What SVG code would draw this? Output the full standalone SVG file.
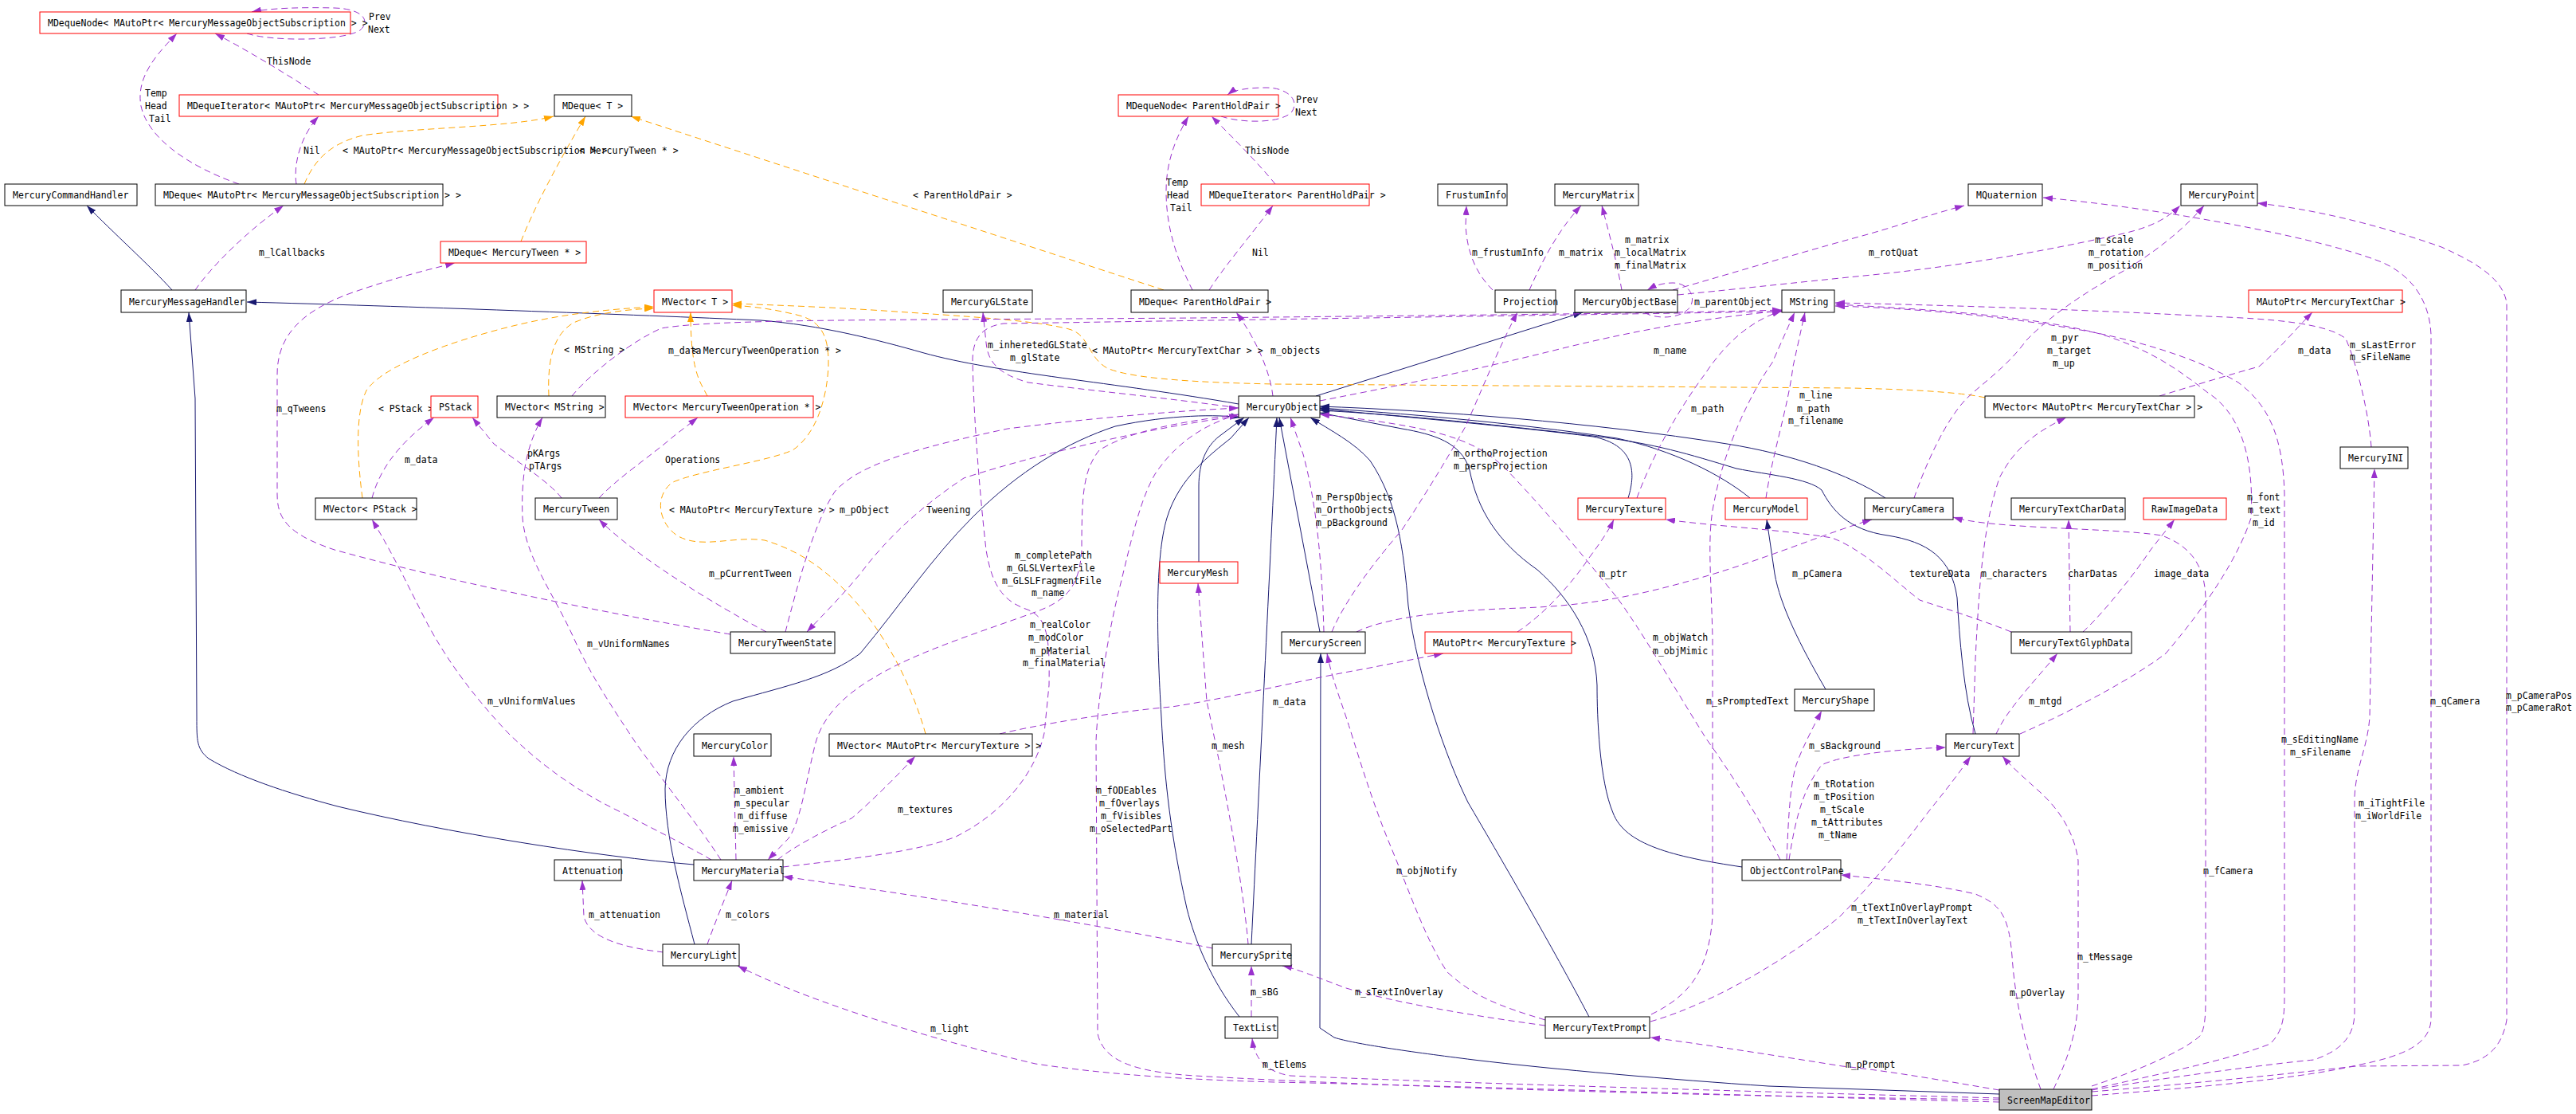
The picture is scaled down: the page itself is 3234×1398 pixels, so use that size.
<svg xmlns="http://www.w3.org/2000/svg" width="3234" height="1398" viewBox="0 0 3234 1398">
<style>
.nb{fill:#fff;stroke:#000;stroke-width:1}
.nr{fill:#fff;stroke:#ff0000;stroke-width:1}
.ng{fill:#bfbfbf;stroke:#000;stroke-width:1}
text{font-family:"DejaVu Sans Mono","Liberation Mono",monospace;font-size:11.5px;fill:#000}
.u{fill:none;stroke:#9a32cd;stroke-width:1;stroke-dasharray:8,5;marker-end:url(#ap)}
.i{fill:none;stroke:#191970;stroke-width:1;marker-end:url(#an)}
.t{fill:none;stroke:#ffa500;stroke-width:1;stroke-dasharray:8,5;marker-end:url(#ao)}
</style>
<defs>
<marker id="ap" viewBox="0 0 12 8" refX="12" refY="4" markerWidth="12" markerHeight="8" markerUnits="userSpaceOnUse" orient="auto"><path d="M0,0L12,4L0,8z" fill="#9a32cd"/></marker>
<marker id="an" viewBox="0 0 12 8" refX="12" refY="4" markerWidth="12" markerHeight="8" markerUnits="userSpaceOnUse" orient="auto"><path d="M0,0L12,4L0,8z" fill="#191970"/></marker>
<marker id="ao" viewBox="0 0 12 8" refX="12" refY="4" markerWidth="12" markerHeight="8" markerUnits="userSpaceOnUse" orient="auto"><path d="M0,0L12,4L0,8z" fill="#ffa500"/></marker>
</defs>
<rect width="3234" height="1398" fill="#fff"/>
<g id="connectors">
<!-- inheritance -->
<path class="i" d="M216,364 C190,335 140,290 109,258"/>
<path class="i" d="M1555,507 C1400,480 1250,468 1160,443 C1100,426 1030,408 955,402 C800,395 500,384 310,379"/>
<path class="i" d="M871,1085 C750,1075 560,1045 424,1012 C360,995 300,975 262,952 C247,940 247,930 247,900 L245,500 L237,392"/>
<path class="i" d="M1652,497 L1987,392"/>
<path class="i" d="M1657,793 L1606,524"/>
<path class="i" d="M1505,705 L1505,610 C1505,580 1515,560 1530,548 L1562,524"/>
<path class="i" d="M1556,1276 C1520,1230 1500,1180 1490,1140 C1470,1050 1462,980 1458,900 C1452,800 1450,700 1465,650 C1480,600 1520,570 1545,550 L1568,524"/>
<path class="i" d="M1571,1185 C1580,1000 1595,700 1603,524"/>
<path class="i" d="M1995,1276 C1950,1190 1880,1070 1843,1007 C1815,950 1780,850 1768,760 C1762,690 1755,630 1720,578 C1700,555 1670,540 1645,524"/>
<path class="i" d="M2187,1088 C2100,1075 2040,1060 2025,1020 C2008,980 2005,900 2005,860 C2003,800 1970,750 1930,715 C1880,680 1855,640 1845,590 C1835,555 1800,545 1760,538 L1657,518"/>
<path class="i" d="M2044,625 C2055,590 2050,558 2000,548 C1900,535 1750,522 1657,513"/>
<path class="i" d="M2197,625 C2160,595 2100,565 2030,550 C1900,530 1750,518 1657,512"/>
<path class="i" d="M2367,625 C2320,595 2250,570 2168,557 C2000,530 1800,515 1657,510"/>
<path class="i" d="M2480,921 C2465,870 2460,800 2457,750 C2450,700 2420,680 2370,672 C2320,665 2300,640 2287,615 C2270,600 2220,596 2180,588 C2120,570 2080,557 2000,547 C1850,530 1750,520 1657,515"/>
<path class="i" d="M2292,865 C2260,810 2235,760 2228,720 L2218,652"/>
<path class="i" d="M2510,1373 L2220,1363 C2100,1355 1950,1342 1850,1330 C1770,1320 1700,1310 1675,1302 L1657,1290 L1658,820"/>
<path class="i" d="M872,1185 C855,1120 835,1050 835,990 C836,940 870,900 920,880 C990,860 1040,850 1080,820 C1130,760 1170,700 1220,650 C1280,590 1340,555 1400,535 C1470,520 1530,520 1557,524"/>
<!-- template -->
<path class="t" d="M382,231 C395,200 415,180 455,170 C520,160 640,160 695,146"/>
<path class="t" d="M654,303 C670,262 700,205 735,146"/>
<path class="t" d="M1461,364 L792,146"/>
<path class="t" d="M455,625 C449,580 445,520 460,490 C480,460 560,430 640,410 C700,395 760,388 821,385"/>
<path class="t" d="M689,497 C687,450 695,420 720,405 C750,392 790,388 821,387"/>
<path class="t" d="M888,497 C880,480 867,470 867,392"/>
<path class="t" d="M1162,921 C1145,860 1110,790 1060,740 C1030,710 1000,690 960,678 C920,672 880,690 850,672 C825,655 822,620 845,605 C880,590 960,580 995,565 C1025,545 1038,500 1040,460 C1041,420 1030,402 1000,395 C970,388 950,385 919,383"/>
<path class="t" d="M2492,499 C2470,494 2420,489 2323,487 L1600,482 C1500,480 1420,475 1390,462 C1365,448 1368,420 1342,413 C1300,402 1213,397 1110,390 C1050,386 980,383 919,381"/>
<!-- usage -->
<path class="u" d="M310,42 C340,52 430,52 452,38 C466,26 455,11 420,10 C380,9 340,10 316,15"/>
<path class="u" d="M400,119 C375,103 320,68 270,42"/>
<path class="u" d="M300,231 C240,210 186,175 177,133 C170,95 200,65 222,42"/>
<path class="u" d="M372,231 C368,205 378,170 400,146"/>
<path class="u" d="M245,364 C265,335 310,290 356,258"/>
<path class="u" d="M917,796 C850,785 600,740 420,690 C360,670 348,650 348,620 L348,470 C348,420 380,390 440,368 C500,347 540,338 571,330"/>
<path class="u" d="M718,497 C740,470 790,430 830,412 C900,400 1100,402 1500,399 C1800,396 2100,393 2237,389"/>
<path class="u" d="M983,1088 C1050,1080 1150,1070 1200,1050 C1260,1020 1300,970 1311,920 L1317,860 C1318,800 1315,775 1290,765 C1260,755 1245,735 1238,690 C1230,620 1222,520 1221,450 C1222,425 1232,410 1260,406 L2237,391"/>
<path class="u" d="M1657,503 C1750,485 1850,465 1962,437 C2060,413 2150,398 2237,390"/>
<path class="u" d="M2055,625 C2075,570 2110,510 2140,470 C2160,440 2190,405 2237,390"/>
<path class="u" d="M2217,625 C2225,570 2245,510 2251,460 L2266,392"/>
<path class="u" d="M2073,1273 C2120,1250 2145,1220 2150,1150 L2150,800 C2148,720 2143,670 2152,630 C2165,560 2200,490 2225,455 L2253,392"/>
<path class="u" d="M2977,561 C2974,520 2960,460 2945,425 C2920,405 2850,400 2772,397 C2650,390 2450,383 2304,380"/>
<path class="u" d="M2536,921 C2600,893 2680,850 2719,820 C2770,760 2810,700 2826,650 C2830,580 2815,520 2772,493 C2730,460 2700,440 2640,420 C2550,395 2400,387 2304,382"/>
<path class="u" d="M2626,1367 C2700,1350 2800,1330 2850,1310 C2865,1295 2868,1280 2868,1250 L2868,620 C2866,550 2850,510 2810,480 C2760,450 2680,425 2600,412 C2500,395 2400,387 2304,384"/>
<path class="u" d="M2626,1363 C2680,1345 2740,1320 2762,1300 C2769,1290 2769,1270 2769,1250 L2769,750 C2768,710 2750,685 2714,672 C2650,662 2500,664 2452,649"/>
<path class="u" d="M2626,1375 C2750,1365 2880,1355 2958,1337 C3020,1325 3050,1310 3052,1280 L3052,420 C3050,370 3020,340 2985,327 C2900,295 2700,260 2565,248"/>
<path class="u" d="M2626,1370 C2750,1360 2850,1350 2958,1338 L3091,1337 C3126,1330 3142,1310 3147,1280 L3147,380 C3142,350 3110,330 3065,310 C2980,280 2900,262 2834,255"/>
<path class="u" d="M2626,1368 C2700,1355 2850,1335 2905,1330 C2940,1318 2956,1300 2956,1270 L2956,1000 C2958,960 2972,940 2975,900 L2981,588"/>
<path class="u" d="M2578,1367 C2600,1320 2608,1290 2609,1250 L2609,1080 C2605,1050 2590,1020 2560,993 C2540,975 2525,962 2514,949"/>
<path class="u" d="M2562,1367 C2545,1320 2530,1260 2526,1200 C2522,1150 2512,1135 2480,1122 C2430,1110 2360,1103 2311,1098"/>
<path class="u" d="M2510,1368 C2450,1358 2380,1345 2313,1338 C2200,1320 2120,1308 2072,1302"/>
<path class="u" d="M2510,1378 C2200,1370 1800,1358 1620,1350 C1590,1345 1575,1330 1572,1303"/>
<path class="u" d="M2510,1383 C2200,1375 1800,1362 1600,1358 C1500,1355 1400,1350 1300,1335 C1150,1300 1000,1250 926,1212"/>
<path class="u" d="M2510,1380 C2100,1375 1700,1362 1500,1350 C1420,1345 1385,1330 1378,1297 L1376,930 C1378,880 1390,800 1405,740 C1420,680 1430,630 1450,595 C1480,550 1520,530 1555,520"/>
<path class="u" d="M1555,520 C1480,530 1420,540 1380,565 C1360,590 1358,620 1358,690 C1355,740 1335,755 1300,768 C1240,790 1160,815 1110,843 C1060,870 1030,900 1022,940 C1010,990 1005,1030 990,1052 L964,1079"/>
<path class="u" d="M986,793 C1000,740 1020,660 1048,617 C1080,580 1162,560 1265,538 C1368,525 1471,516 1555,512"/>
<path class="u" d="M1555,522 C1420,540 1270,580 1210,600 C1150,640 1110,680 1080,720 C1055,750 1030,775 1013,793"/>
<path class="u" d="M962,793 C900,760 800,700 752,652"/>
<path class="u" d="M752,625 C775,600 820,570 845,548 L876,524"/>
<path class="u" d="M705,625 C690,605 650,580 620,557 L593,524"/>
<path class="u" d="M467,625 C475,595 495,560 545,524"/>
<path class="u" d="M905,1079 C880,1040 840,990 800,935 C770,890 740,845 720,800 C695,745 660,700 656,650 C654,600 660,560 681,524"/>
<path class="u" d="M893,1079 C860,1060 820,1040 775,1017 C720,990 680,960 640,922 C600,880 560,830 530,770 C505,720 490,690 467,652"/>
<path class="u" d="M833,1195 C790,1190 740,1180 733,1150 L731,1105"/>
<path class="u" d="M888,1185 C895,1165 905,1140 919,1105"/>
<path class="u" d="M1522,1190 C1400,1165 1200,1130 983,1100"/>
<path class="u" d="M1567,1185 C1560,1100 1530,950 1515,880 L1504,732"/>
<path class="u" d="M1571,1276 L1571,1212"/>
<path class="u" d="M1940,1287 C1850,1275 1750,1258 1690,1240 C1650,1225 1625,1215 1610,1212"/>
<path class="u" d="M1940,1280 C1880,1262 1850,1250 1817,1220 C1790,1180 1770,1120 1745,1060 C1720,1000 1700,930 1690,900 C1680,870 1672,850 1666,820"/>
<path class="u" d="M1255,921 C1300,910 1400,893 1471,887 C1550,875 1650,850 1710,840 L1812,820"/>
<path class="u" d="M1905,793 C1940,770 1975,730 1995,700 C2010,680 2020,665 2026,652"/>
<path class="u" d="M1703,793 C1750,770 1850,765 1910,763 C1990,760 2050,750 2142,723 C2220,700 2290,670 2350,652"/>
<path class="u" d="M2525,793 C2480,775 2430,760 2410,753 C2380,730 2340,690 2300,675 C2240,665 2150,660 2091,652"/>
<path class="u" d="M2477,921 L2480,827 C2485,727 2490,660 2510,600 C2530,560 2560,540 2594,524"/>
<path class="u" d="M2599,793 L2597,652"/>
<path class="u" d="M2615,793 C2640,770 2680,720 2700,690 L2730,652"/>
<path class="u" d="M2506,921 C2520,890 2550,860 2583,820"/>
<path class="u" d="M2711,497 C2750,485 2800,470 2836,460 C2860,440 2880,415 2903,392"/>
<path class="u" d="M2403,625 C2415,590 2440,530 2469,500 C2490,480 2520,460 2544,427 C2580,390 2630,360 2666,340 C2700,320 2740,290 2767,258"/>
<path class="u" d="M2106,370 C2160,365 2250,355 2350,345 C2450,335 2560,317 2666,293 C2700,285 2720,275 2737,258"/>
<path class="u" d="M2100,364 C2150,350 2250,320 2323,300 C2380,285 2420,270 2466,258"/>
<path class="u" d="M2036,364 C2030,330 2022,300 2011,258"/>
<path class="u" d="M1920,364 C1935,330 1955,290 1985,258"/>
<path class="u" d="M1874,364 C1855,345 1842,320 1840,283 L1841,258"/>
<path class="u" d="M1672,793 C1690,750 1730,700 1760,665 C1790,620 1820,570 1840,535 C1860,490 1880,440 1905,392"/>
<path class="u" d="M2065,392 C2075,400 2110,402 2122,385 C2130,370 2118,355 2100,355 C2085,355 2075,360 2068,364"/>
<path class="u" d="M1555,512 C1470,500 1368,490 1291,480 C1255,470 1240,455 1238,430 L1234,392"/>
<path class="u" d="M1598,497 C1595,470 1580,430 1552,392"/>
<path class="u" d="M1533,146 C1560,155 1610,155 1622,140 C1632,125 1615,110 1590,110 C1570,110 1550,112 1541,119"/>
<path class="u" d="M1601,231 C1580,205 1545,170 1521,146"/>
<path class="u" d="M1497,364 C1480,330 1464,290 1464,240 C1464,200 1478,170 1492,146"/>
<path class="u" d="M1518,364 C1540,330 1575,290 1598,258"/>
<path class="u" d="M2243,1079 C2245,1040 2246,990 2255,960 C2262,940 2275,915 2287,892"/>
<path class="u" d="M2246,1079 C2255,1020 2266,987 2287,960 C2310,948 2380,940 2443,938"/>
<path class="u" d="M2235,1079 C2210,1030 2180,980 2142,927 C2100,860 2060,790 2030,750 C1990,700 1940,640 1889,587 C1850,550 1800,535 1657,520"/>
<path class="u" d="M2072,1282 C2150,1260 2250,1200 2310,1150 C2350,1110 2390,1060 2420,1020 C2440,995 2460,970 2474,949"/>
<path class="u" d="M1662,793 C1660,720 1655,640 1636,570 L1620,524"/>
<path class="u" d="M924,1079 L921,949"/>
<path class="u" d="M976,1079 C1000,1060 1040,1040 1069,1027 C1095,1005 1125,975 1149,949"/>
<!-- labels -->
<text x="463" y="25">Prev</text><text x="462" y="41">Next</text>
<text x="335" y="81">ThisNode</text>
<text x="182" y="121">Temp</text><text x="182" y="137">Head</text><text x="187" y="153">Tail</text>
<text x="381" y="193">Nil</text>
<text x="430" y="193">&lt; MAutoPtr&lt; MercuryMessageObjectSubscription &gt; &gt;</text>
<text x="727" y="193">&lt; MercuryTween * &gt;</text>
<text x="325" y="321">m_lCallbacks</text>
<text x="708" y="443">&lt; MString &gt;</text>
<text x="1146" y="249">&lt; ParentHoldPair &gt;</text>
<text x="1464" y="233">Temp</text><text x="1465" y="249">Head</text><text x="1469" y="265">Tail</text>
<text x="1563" y="193">ThisNode</text>
<text x="1572" y="321">Nil</text>
<text x="1627" y="129">Prev</text><text x="1626" y="145">Next</text>
<text x="839" y="444">m_data</text>
<text x="869" y="444">&lt; MercuryTweenOperation * &gt;</text>
<text x="1240" y="437">m_inheretedGLState</text>
<text x="1268" y="453">m_glState</text>
<text x="1371" y="444">&lt; MAutoPtr&lt; MercuryTextChar &gt; &gt;</text>
<text x="1595" y="444">m_objects</text>
<text x="1848" y="321">m_frustumInfo</text>
<text x="1957" y="321">m_matrix</text>
<text x="2040" y="305">m_matrix</text>
<text x="2027" y="321">m_localMatrix</text>
<text x="2027" y="337">m_finalMatrix</text>
<text x="2346" y="321">m_rotQuat</text>
<text x="2127" y="383">m_parentObject</text>
<text x="2076" y="444">m_name</text>
<text x="2630" y="305">m_scale</text>
<text x="2622" y="321">m_rotation</text>
<text x="2621" y="337">m_position</text>
<text x="2575" y="428">m_pyr</text>
<text x="2570" y="444">m_target</text>
<text x="2577" y="460">m_up</text>
<text x="2885" y="444">m_data</text>
<text x="2950" y="437">m_sLastError</text>
<text x="2950" y="452">m_sFileName</text>
<text x="347" y="517">m_qTweens</text>
<text x="475" y="517">&lt; PStack &gt;</text>
<text x="508" y="581">m_data</text>
<text x="662" y="573">pKArgs</text>
<text x="664" y="589">pTArgs</text>
<text x="612" y="884">m_vUniformValues</text>
<text x="737" y="812">m_vUniformNames</text>
<text x="835" y="581">Operations</text>
<text x="840" y="644">&lt; MAutoPtr&lt; MercuryTexture &gt; &gt;</text>
<text x="1054" y="644">m_pObject</text>
<text x="1163" y="644">Tweening</text>
<text x="890" y="724">m_pCurrentTween</text>
<text x="1274" y="701">m_completePath</text>
<text x="1264" y="717">m_GLSLVertexFile</text>
<text x="1258" y="733">m_GLSLFragmentFile</text>
<text x="1295" y="748">m_name</text>
<text x="1293" y="788">m_realColor</text>
<text x="1291" y="804">m_modColor</text>
<text x="1293" y="821">m_pMaterial</text>
<text x="1284" y="836">m_finalMaterial</text>
<text x="1598" y="885">m_data</text>
<text x="2123" y="517">m_path</text>
<text x="2259" y="500">m_line</text>
<text x="2256" y="517">m_path</text>
<text x="2245" y="532">m_filename</text>
<text x="1825" y="573">m_orthoProjection</text>
<text x="1825" y="589">m_perspProjection</text>
<text x="1652" y="628">m_PerspObjects</text>
<text x="1652" y="644">m_OrthoObjects</text>
<text x="1652" y="660">m_pBackground</text>
<text x="2008" y="724">m_ptr</text>
<text x="2250" y="724">m_pCamera</text>
<text x="2397" y="724">textureData</text>
<text x="2075" y="804">m_objWatch</text>
<text x="2075" y="821">m_objMimic</text>
<text x="2142" y="884">m_sPromptedText</text>
<text x="2487" y="724">m_characters</text>
<text x="2596" y="724">charDatas</text>
<text x="2704" y="724">image_data</text>
<text x="2821" y="628">m_font</text>
<text x="2822" y="644">m_text</text>
<text x="2828" y="660">m_id</text>
<text x="2547" y="884">m_mtgd</text>
<text x="3051" y="884">m_qCamera</text>
<text x="3146" y="877">m_pCameraPos</text>
<text x="3146" y="892">m_pCameraRot</text>
<text x="739" y="1152">m_attenuation</text>
<text x="922" y="996">m_ambient</text>
<text x="922" y="1012">m_specular</text>
<text x="926" y="1028">m_diffuse</text>
<text x="920" y="1044">m_emissive</text>
<text x="1127" y="1020">m_textures</text>
<text x="1376" y="996">m_fODEables</text>
<text x="1380" y="1012">m_fOverlays</text>
<text x="1382" y="1028">m_fVisibles</text>
<text x="1368" y="1044">m_oSelectedPart</text>
<text x="1521" y="940">m_mesh</text>
<text x="911" y="1152">m_colors</text>
<text x="1323" y="1152">m_material</text>
<text x="1168" y="1295">m_light</text>
<text x="1570" y="1249">m_sBG</text>
<text x="1585" y="1340">m_tElems</text>
<text x="2271" y="940">m_sBackground</text>
<text x="2277" y="988">m_tRotation</text>
<text x="2277" y="1004">m_tPosition</text>
<text x="2285" y="1020">m_tScale</text>
<text x="2274" y="1036">m_tAttributes</text>
<text x="2283" y="1052">m_tName</text>
<text x="1753" y="1097">m_objNotify</text>
<text x="1701" y="1249">m_sTextInOverlay</text>
<text x="2324" y="1143">m_tTextInOverlayPrompt</text>
<text x="2332" y="1159">m_tTextInOverlayText</text>
<text x="2317" y="1340">m_pPrompt</text>
<text x="2864" y="932">m_sEditingName</text>
<text x="2875" y="948">m_sFilename</text>
<text x="2961" y="1012">m_iTightFile</text>
<text x="2957" y="1028">m_iWorldFile</text>
<text x="2766" y="1097">m_fCamera</text>
<text x="2608" y="1205">m_tMessage</text>
<text x="2523" y="1250">m_pOverlay</text>
</g>
<g id="n1"><rect class="nr" x="50" y="15" width="390" height="27"/><text x="60" y="33">MDequeNode&lt; MAutoPtr&lt; MercuryMessageObjectSubscription &gt; &gt;</text></g>
<g id="n2"><rect class="nr" x="225" y="119" width="400" height="27"/><text x="235" y="137">MDequeIterator&lt; MAutoPtr&lt; MercuryMessageObjectSubscription &gt; &gt;</text></g>
<g id="n3"><rect class="nb" x="696" y="119" width="97" height="27"/><text x="706" y="137">MDeque&lt; T &gt;</text></g>
<g id="n4"><rect class="nb" x="6" y="231" width="166" height="27"/><text x="16" y="249">MercuryCommandHandler</text></g>
<g id="n5"><rect class="nb" x="195" y="231" width="361" height="27"/><text x="205" y="249">MDeque&lt; MAutoPtr&lt; MercuryMessageObjectSubscription &gt; &gt;</text></g>
<g id="n6"><rect class="nr" x="553" y="303" width="183" height="27"/><text x="563" y="321">MDeque&lt; MercuryTween * &gt;</text></g>
<g id="n7"><rect class="nb" x="152" y="364" width="157" height="28"/><text x="162" y="383">MercuryMessageHandler</text></g>
<g id="n8"><rect class="nr" x="1404" y="119" width="201" height="27"/><text x="1414" y="137">MDequeNode&lt; ParentHoldPair &gt;</text></g>
<g id="n9"><rect class="nr" x="1508" y="231" width="211" height="27"/><text x="1518" y="249">MDequeIterator&lt; ParentHoldPair &gt;</text></g>
<g id="n10"><rect class="nr" x="821" y="364" width="98" height="28"/><text x="831" y="383">MVector&lt; T &gt;</text></g>
<g id="n11"><rect class="nb" x="1184" y="364" width="112" height="28"/><text x="1194" y="383">MercuryGLState</text></g>
<g id="n12"><rect class="nb" x="1420" y="364" width="172" height="28"/><text x="1430" y="383">MDeque&lt; ParentHoldPair &gt;</text></g>
<g id="n13"><rect class="nb" x="1805" y="231" width="87" height="27"/><text x="1815" y="249">FrustumInfo</text></g>
<g id="n14"><rect class="nb" x="1952" y="231" width="105" height="27"/><text x="1962" y="249">MercuryMatrix</text></g>
<g id="n15"><rect class="nb" x="1877" y="364" width="76" height="28"/><text x="1887" y="383">Projection</text></g>
<g id="n16"><rect class="nb" x="1977" y="364" width="129" height="28"/><text x="1987" y="383">MercuryObjectBase</text></g>
<g id="n17"><rect class="nb" x="2237" y="364" width="66" height="28"/><text x="2247" y="383">MString</text></g>
<g id="n18"><rect class="nb" x="2471" y="231" width="93" height="27"/><text x="2481" y="249">MQuaternion</text></g>
<g id="n19"><rect class="nb" x="2738" y="231" width="96" height="27"/><text x="2748" y="249">MercuryPoint</text></g>
<g id="n20"><rect class="nr" x="2823" y="364" width="193" height="28"/><text x="2833" y="383">MAutoPtr&lt; MercuryTextChar &gt;</text></g>
<g id="n21"><rect class="nr" x="541" y="497" width="59" height="27"/><text x="551" y="515">PStack</text></g>
<g id="n22"><rect class="nb" x="624" y="497" width="136" height="27"/><text x="634" y="515">MVector&lt; MString &gt;</text></g>
<g id="n23"><rect class="nr" x="785" y="497" width="236" height="27"/><text x="795" y="515">MVector&lt; MercuryTweenOperation * &gt;</text></g>
<g id="n24"><rect class="nb" x="396" y="625" width="127" height="27"/><text x="406" y="643">MVector&lt; PStack &gt;</text></g>
<g id="n25"><rect class="nb" x="672" y="625" width="103" height="27"/><text x="682" y="643">MercuryTween</text></g>
<g id="n26"><rect class="nb" x="1555" y="497" width="102" height="27"/><text x="1565" y="515">MercuryObject</text></g>
<g id="n27"><rect class="nb" x="917" y="793" width="131" height="27"/><text x="927" y="811">MercuryTweenState</text></g>
<g id="n28"><rect class="nr" x="1456" y="705" width="98" height="27"/><text x="1466" y="723">MercuryMesh</text></g>
<g id="n29"><rect class="nb" x="871" y="921" width="97" height="28"/><text x="881" y="940">MercuryColor</text></g>
<g id="n30"><rect class="nb" x="1041" y="921" width="255" height="28"/><text x="1051" y="940">MVector&lt; MAutoPtr&lt; MercuryTexture &gt; &gt;</text></g>
<g id="n31"><rect class="nr" x="1981" y="625" width="110" height="27"/><text x="1991" y="643">MercuryTexture</text></g>
<g id="n32"><rect class="nr" x="2166" y="625" width="103" height="27"/><text x="2176" y="643">MercuryModel</text></g>
<g id="n33"><rect class="nb" x="2341" y="625" width="111" height="27"/><text x="2351" y="643">MercuryCamera</text></g>
<g id="n34"><rect class="nb" x="1609" y="793" width="105" height="27"/><text x="1619" y="811">MercuryScreen</text></g>
<g id="n35"><rect class="nr" x="1789" y="793" width="184" height="27"/><text x="1799" y="811">MAutoPtr&lt; MercuryTexture &gt;</text></g>
<g id="n36"><rect class="nb" x="2253" y="865" width="100" height="27"/><text x="2263" y="883">MercuryShape</text></g>
<g id="n37"><rect class="nb" x="2492" y="497" width="263" height="27"/><text x="2502" y="515">MVector&lt; MAutoPtr&lt; MercuryTextChar &gt; &gt;</text></g>
<g id="n38"><rect class="nb" x="2938" y="561" width="85" height="27"/><text x="2948" y="579">MercuryINI</text></g>
<g id="n39"><rect class="nb" x="2525" y="625" width="143" height="27"/><text x="2535" y="643">MercuryTextCharData</text></g>
<g id="n40"><rect class="nr" x="2691" y="625" width="104" height="27"/><text x="2701" y="643">RawImageData</text></g>
<g id="n41"><rect class="nb" x="2525" y="793" width="151" height="27"/><text x="2535" y="811">MercuryTextGlyphData</text></g>
<g id="n42"><rect class="nb" x="2443" y="921" width="92" height="28"/><text x="2453" y="940">MercuryText</text></g>
<g id="n43"><rect class="nb" x="696" y="1079" width="84" height="26"/><text x="706" y="1097">Attenuation</text></g>
<g id="n44"><rect class="nb" x="871" y="1079" width="112" height="26"/><text x="881" y="1097">MercuryMaterial</text></g>
<g id="n45"><rect class="nb" x="832" y="1185" width="96" height="27"/><text x="842" y="1203">MercuryLight</text></g>
<g id="n46"><rect class="nb" x="1522" y="1185" width="99" height="27"/><text x="1532" y="1203">MercurySprite</text></g>
<g id="n47"><rect class="nb" x="1538" y="1276" width="66" height="27"/><text x="1548" y="1294">TextList</text></g>
<g id="n48"><rect class="nb" x="2187" y="1079" width="124" height="26"/><text x="2197" y="1097">ObjectControlPane</text></g>
<g id="n49"><rect class="nb" x="1940" y="1276" width="131" height="27"/><text x="1950" y="1294">MercuryTextPrompt</text></g>
<g id="n50"><rect class="ng" x="2510" y="1367" width="116" height="26"/><text x="2520" y="1385">ScreenMapEditor</text></g>
</svg>
